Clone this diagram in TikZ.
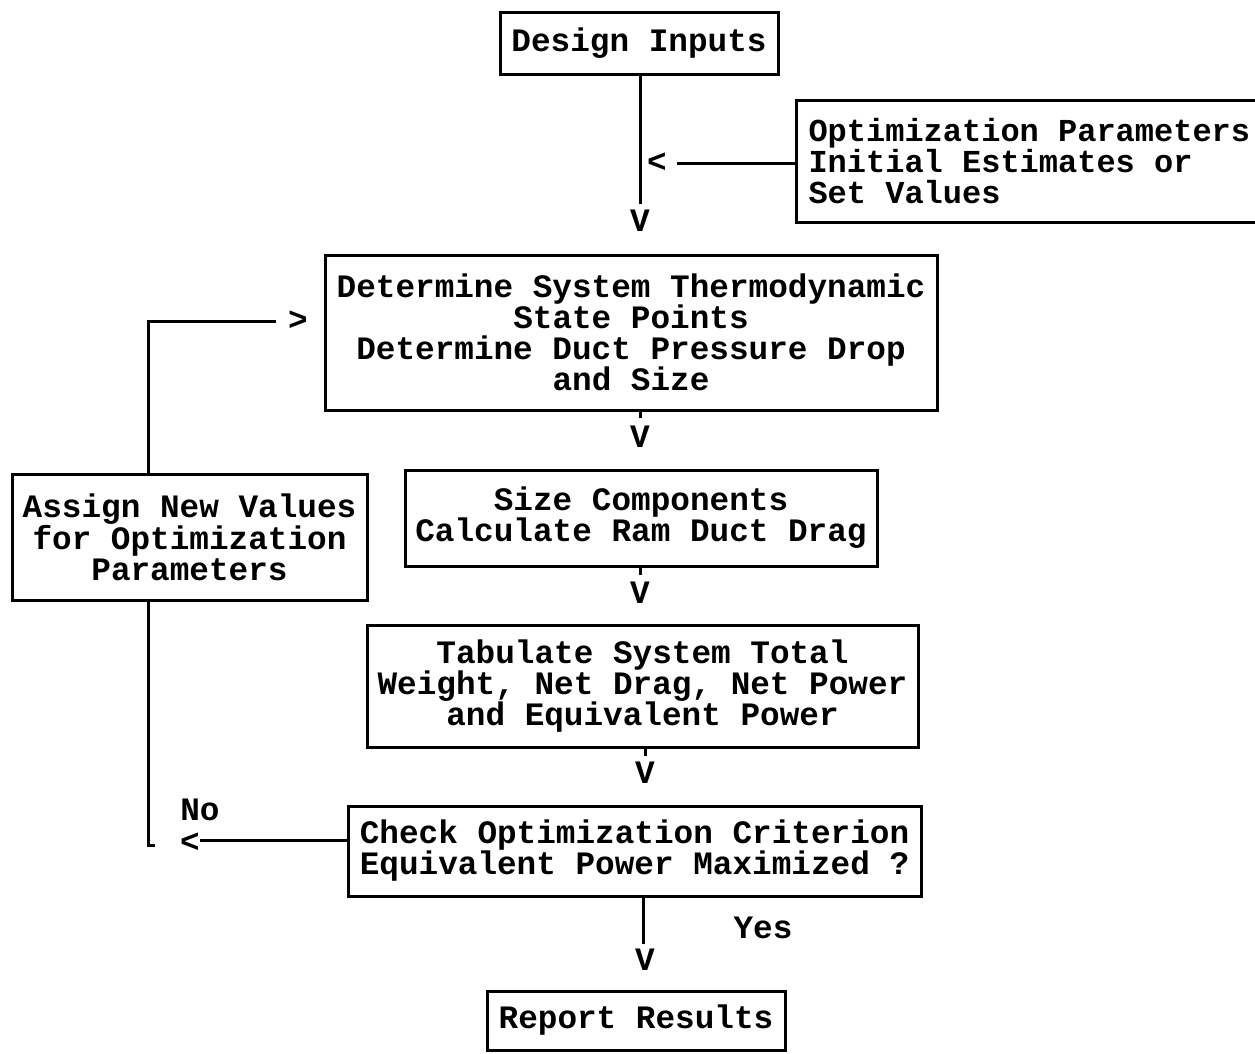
\documentclass[tikz,border=0pt]{standalone}
\usepackage{fontspec}
\setmainfont{Liberation Mono}
\newcommand\dfont{\fontsize{32.7pt}{31pt}\selectfont\bfseries}
\newcommand\ofont{\fontsize{32pt}{31pt}\selectfont\bfseries}
\begin{document}
\begin{tikzpicture}[x=1pt,y=-1pt,
  box/.style={draw,line width=3pt,inner sep=0pt,align=center,font=\dfont},
  glyph/.style={inner sep=0pt,font=\dfont},
  conn/.style={line width=3pt}]
\useasboundingbox (0,0) rectangle (1255,1053);
\fill[white] (0,0) rectangle (1255,1053);

% boxes
\node[box,minimum width=278pt,minimum height=62pt] (design) at (639,43) {Design Inputs};
\node[box,anchor=west,minimum height=122pt,align=left,inner xsep=12pt,font=\ofont] (opt) at (795,161)
  {Optimization Parameters\\Initial Estimates or\\Set Values};
\node[box,minimum width=612pt,minimum height=155pt] (det) at (631,332.5)
  {Determine System Thermodynamic\\State Points\\Determine Duct Pressure Drop\\and Size};
\node[box,minimum width=472pt,minimum height=96pt] (size) at (641,518)
  {Size Components\\Calculate Ram Duct Drag};
\node[box,minimum width=355pt,minimum height=126pt] (assign) at (189.5,537)
  {Assign New Values\\for Optimization\\Parameters};
\node[box,minimum width=551pt,minimum height=122pt] (tab) at (642.5,686)
  {Tabulate System Total\\Weight, Net Drag, Net Power\\and Equivalent Power};
\node[box,minimum width=573pt,minimum height=90pt] (check) at (634.5,851)
  {Check Optimization Criterion\\Equivalent Power Maximized ?};
\node[box,minimum width=298pt,minimum height=59pt] (report) at (636,1020.5) {Report Results};

% arrow glyphs
\node[glyph] (v1) at (640,221) {V};
\node[glyph] (lt1) at (657,163) {<};
\node[glyph] (v2) at (640,437) {V};
\node[glyph] (v3) at (640,593) {V};
\node[glyph] (v4) at (645,773) {V};
\node[glyph] (v5) at (645,960) {V};
\node[glyph] (gt) at (298,321) {>};
\node[glyph] (lt2) at (190,843) {<};

% labels
\node[glyph] (no) at (200,810) {No};
\node[glyph] (yes) at (763,928) {Yes};

\coordinate (loopx) at (148,0);
\coordinate (hook) at (155,845);

% connectors
\draw[conn] (design.south -| v1) -- ([yshift=6pt]v1.north);
\draw[conn,shorten >=10pt] (opt.west |- lt1) -- (lt1);
\draw[conn] (det.south -| v2) -- ([yshift=8pt]v2.north);
\draw[conn] (size.south -| v3) -- ([yshift=7pt]v3.north);
\draw[conn] (tab.south -| v4) -- ([yshift=6pt]v4.north);
\draw[conn] (check.south -| 643,0) -- ([yshift=5pt,xshift=-2pt]v5.north);
\draw[conn,shorten >=12pt] (loopx |- assign.north) |- (gt);
\draw[conn,shorten >=10pt] (check.west |- 0,840) -- (lt2 |- 0,840);
\draw[conn] (loopx |- assign.south) |- (hook);
\end{tikzpicture}
\end{document}
